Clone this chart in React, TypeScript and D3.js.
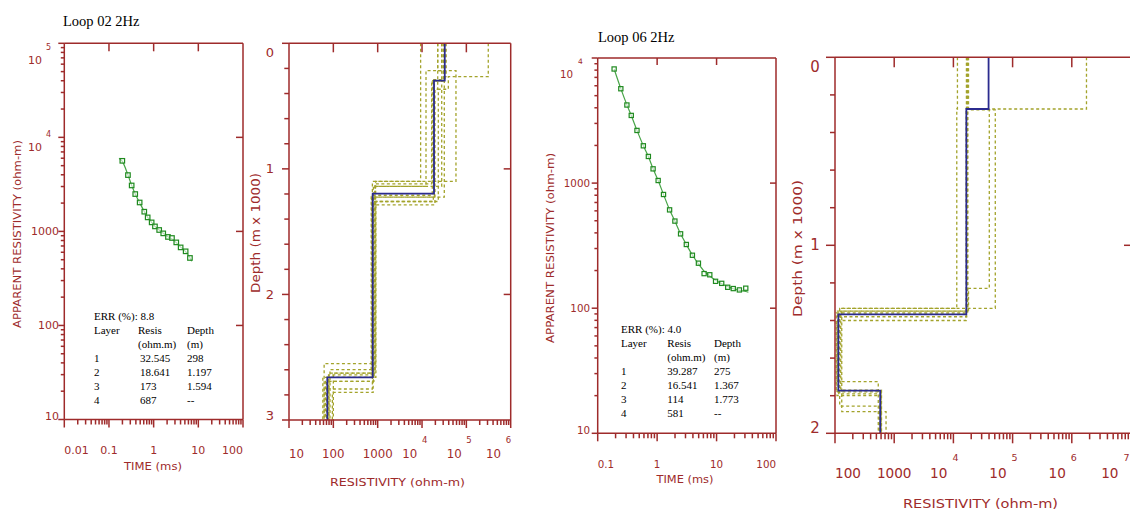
import React from "react";
import * as d3 from "d3";

// ---------------- Colours / fonts ----------------
const AXIS_COLOR = "#9e2b2b";
const GREEN_LINE = "#47a447";
const GREEN_MARK = "#1f8a1f";
const BLUE = "#2b2b8e";
const OLIVE = "#a3a32b";
const SANS = "'DejaVu Sans', Verdana, sans-serif";
const SERIF = "'Liberation Serif', 'Times New Roman', serif";

// ---------------- Loop 02 data ----------------
const loop02Title = "Loop 02 2Hz";
const loop02Time = [0.199, 0.266, 0.322, 0.387, 0.486, 0.617, 0.735, 0.902, 1.07, 1.33, 1.64, 2.09, 2.57, 3.21, 4.02, 5.2, 6.49];
const loop02Rho = [5630, 3970, 3080, 2495, 2030, 1620, 1409, 1247, 1130, 1035, 953, 873, 851, 764, 676, 614, 522];
const loop02FitTime = [0.168, 0.199, 0.266, 0.322, 0.387, 0.486, 0.617, 0.735, 0.902, 1.07, 1.33, 1.64, 2.09, 2.57, 3.21, 4.02, 5.2, 6.49, 7.08];
const loop02FitRho = [6010, 5560, 3990, 3090, 2500, 2020, 1625, 1410, 1250, 1130, 1035, 955, 875, 830, 760, 680, 610, 525, 481];
const loop02Err = "8.8";
const loop02Layer = ["1", "2", "3", "4"];
const loop02Resis = ["32.545", "18.641", "173", "687"];
const loop02Depth = ["298", "1.197", "1.594", "--"];
const loop02TimeTicks = [0.01, 0.1, 1, 10, 100];
const loop02AppRhoTicks = [10, 100, 1000, 1e4, 1e5];
const loop02ResTicks = [10, 100, 1000, 1e4, 1e5, 1e6];
const loop02DepthTicks = [0, 1, 2, 3];
const loop02ModelRho = [32545, 18641, 773, 73];
const loop02ModelBottom = [0.298, 1.197, 2.66];
const loop02EquivRho = [
  [9300, 900, 62],
  [22600, 58300, 760, 62],
  [27800, 12300, 880, 84],
  [312000, 39200, 23300, 820, 70],
  [27800, 16500, 860, 100],
  [22600, 19600, 790, 95],
  [35000, 31800, 830, 75],
  [32000, 27800, 800, 66],
  [30000, 19000, 730, 80],
  [33000, 18000, 910, 58],
  [31000, 17000, 715, 78],
];
const loop02EquivBottom = [
  [1.1, 2.551],
  [0.218, 1.1, 2.753],
  [0.218, 1.14, 2.599],
  [0.266, 0.366, 1.26, 2.692],
  [0.298, 1.12, 2.626],
  [0.366, 1.286, 2.78],
  [0.266, 1.225, 2.66],
  [0.3, 1.14, 2.692],
  [0.3, 1.225, 2.626],
  [0.3, 1.26, 2.66],
  [0.29, 1.21, 2.64],
];

// ---------------- Loop 06 data ----------------
const loop06Title = "Loop 06 2Hz";
const loop06Time = [0.189, 0.245, 0.31, 0.367, 0.458, 0.586, 0.712, 0.855, 1.04, 1.28, 1.62, 1.99, 2.48, 3.1, 3.92, 4.95, 6.17, 7.69, 9.62, 12.2, 15.4, 19.1, 24.2, 31.0];
const loop06Rho = [8170, 5680, 4210, 3475, 2636, 1987, 1633, 1300, 1049, 811, 611, 497, 393, 323, 265, 229, 189, 185, 164, 158, 147, 143.5, 140, 144.5];
const loop06FitTime = [0.189, 0.245, 0.31, 0.367, 0.458, 0.586, 0.712, 0.855, 1.04, 1.28, 1.62, 1.99, 2.48, 3.1, 3.92, 4.95, 6.17, 7.69, 9.62, 12.2, 15.4, 19.1, 24.2, 31.0, 34.3];
const loop06FitRho = [8170, 5690, 4220, 3470, 2640, 1990, 1630, 1300, 1050, 812, 612, 497, 393, 323, 266, 226, 198, 181, 167, 157, 149, 143, 139, 136, 134];
const loop06Err = "4.0";
const loop06Layer = ["1", "2", "3", "4"];
const loop06Resis = ["39.287", "16.541", "114", "581"];
const loop06Depth = ["275", "1.367", "1.773", "--"];
const loop06TimeTicks = [0.1, 1, 10, 100];
const loop06AppRhoTicks = [10, 100, 1000, 1e4];
const loop06ResTicks = [100, 1000, 1e4, 1e5, 1e6, 1e7];
const loop06DepthTicks = [0, 1, 2];
const loop06ModelRho = [39287, 16541, 114, 581];
const loop06ModelBottom = [0.275, 1.367, 1.773];
const loop06EquivRho = [
  [1770000, 40400, 18000, 110, 538],
  [11700, 11400, 120, 560],
  [18000, 51000, 130, 728],
  [17000, 17500, 105, 600],
  [16600, 16800, 115, 580],
  [17600, 17300, 125, 610],
  [17200, 16400, 108, 590],
];
const loop06EquivBottom = [
  [0.275, 1.229, 1.35, 1.725],
  [0.275, 1.335, 1.855],
  [0.28, 1.335, 1.885],
  [0.28, 1.36, 1.78],
  [0.28, 1.38, 1.79],
  [0.275, 1.35, 1.77],
  [0.28, 1.4, 1.8],
];

// ---------------- helpers ----------------
type Box = { l: number; r: number; t: number; b: number };

function isDecade(v: number) {
  const lg = Math.log10(v);
  return Math.abs(lg - Math.round(lg)) < 1e-6;
}
function plain(v: number) {
  return String(+v.toPrecision(6));
}
function textW(s: string, font: number) {
  let w = 0;
  for (const c of s) w += c === "." ? 0.318 : 0.636;
  return w * font;
}
function clamp(v: number, a: number, b: number) {
  return Math.max(a, Math.min(b, v));
}

function Frame({ box }: { box: Box }) {
  const { l, r, t, b } = box;
  return (
    <path
      d={`M${l},${t}H${r}M${l},${b}H${r}M${l},${t}V${b}M${r},${t}V${b}`}
      stroke={AXIS_COLOR}
      strokeWidth={1.5}
      fill="none"
    />
  );
}

function AxisTitle({ x, y, len, size, text, rotate }: { x: number; y: number; len: number; size: number; text: string; rotate?: boolean }) {
  return (
    <text
      x={0}
      y={0}
      transform={`translate(${x},${y})${rotate ? " rotate(-90)" : ""}`}
      textAnchor="middle"
      dominantBaseline="central"
      fontFamily={SANS}
      fontSize={size}
      fill={AXIS_COLOR}
      textLength={len}
      lengthAdjust="spacingAndGlyphs"
    >
      {text}
    </text>
  );
}

type CurveStyle = {
  font: number;
  supFont: number;
  xLabelY: number;
  yPlainEnd: number;
  yTenEnd: number;
  ySupStart: number;
  yTenDy: number;
  ySupDy: number;
  yTenMinTop: number;
  ySupMinTop: number;
  yBottomPad: number;
  tickTop: number;
  tickRight: number;
  tickBotMaj: number;
  tickBotMin: number;
  tickLeftMaj: number;
  tickLeftMin: number;
  xTitle: [number, number, number, number];
  yTitle: [number, number, number, number];
  marker: number;
};

function Table({ x, y, dy, cols, err, layer, resis, depth, valShift }: { x: number; y: number; dy: number; cols: [number, number]; err: string; layer: string[]; resis: string[]; depth: string[]; valShift: number }) {
  return (
    <g fontFamily={SERIF} fontSize={11} fill="#000">
      <text x={x} y={y} dominantBaseline="central">{`ERR (%): ${err}`}</text>
      <text x={x} y={y + dy} dominantBaseline="central">Layer</text>
      <text x={cols[0]} y={y + dy} dominantBaseline="central">Resis</text>
      <text x={cols[1]} y={y + dy} dominantBaseline="central">Depth</text>
      <text x={cols[0]} y={y + 2 * dy} dominantBaseline="central">(ohm.m)</text>
      <text x={cols[1]} y={y + 2 * dy} dominantBaseline="central">(m)</text>
      {layer.map((L, i) => (
        <g key={i}>
          <text x={x} y={y + (3 + i) * dy} dominantBaseline="central">{L}</text>
          <text x={cols[0] + valShift} y={y + (3 + i) * dy} dominantBaseline="central">{resis[i]}</text>
          <text x={cols[1]} y={y + (3 + i) * dy} dominantBaseline="central">{depth[i]}</text>
        </g>
      ))}
    </g>
  );
}

function CurvePanel(p: {
  box: Box;
  xTicks: number[];
  yTicks: number[];
  time: number[];
  rho: number[];
  fitTime: number[];
  fitRho: number[];
  st: CurveStyle;
}) {
  const { l, r, t, b } = p.box;
  const st = p.st;
  const x = d3.scaleLog().domain([p.xTicks[0], p.xTicks[p.xTicks.length - 1]]).range([l, r]);
  const y = d3.scaleLog().domain([p.yTicks[0], p.yTicks[p.yTicks.length - 1]]).range([b, t]);
  const xAll = x.ticks();
  const yAll = y.ticks();
  const line = d3
    .line<number>()
    .x((_, i) => x(p.fitTime[i]))
    .y((_, i) => y(p.fitRho[i]))
    .curve(d3.curveMonotoneX);
  const xMajInner = p.xTicks.slice(1, -1);
  const yMajInner = p.yTicks.slice(1, -1);
  return (
    <g>
      <Frame box={p.box} />
      <g stroke={AXIS_COLOR} strokeWidth={1.5}>
        {xAll.map((v, i) => (
          <line key={"bx" + i} x1={x(v)} x2={x(v)} y1={b} y2={b + (isDecade(v) ? st.tickBotMaj : st.tickBotMin)} />
        ))}
        {xMajInner.map((v, i) => (
          <line key={"tx" + i} x1={x(v)} x2={x(v)} y1={t} y2={t + st.tickTop} />
        ))}
        {yAll.map((v, i) => (
          <line key={"ly" + i} x1={l} x2={l - (isDecade(v) ? st.tickLeftMaj : st.tickLeftMin)} y1={y(v)} y2={y(v)} />
        ))}
        {yMajInner.map((v, i) => (
          <line key={"ry" + i} x1={r} x2={r - st.tickRight} y1={y(v)} y2={y(v)} />
        ))}
      </g>
      <g fontFamily={SANS} fill={AXIS_COLOR}>
        {p.xTicks.map((v, i) => {
          const s = plain(v);
          const w = textW(s, st.font);
          const cx = clamp(x(v), l + w / 2, r - w / 2);
          return (
            <text key={"xl" + i} x={cx} y={st.xLabelY} fontSize={st.font} textAnchor="middle" dominantBaseline="central">
              {s}
            </text>
          );
        })}
        {p.yTicks.map((v, i) => {
          if (v < 1e4) {
            return (
              <text key={"yl" + i} x={l - st.yPlainEnd} y={Math.min(y(v), b - st.yBottomPad)} fontSize={st.font} textAnchor="end" dominantBaseline="central">
                {plain(v)}
              </text>
            );
          }
          const e = Math.round(Math.log10(v));
          return (
            <g key={"yl" + i}>
              <text x={l - st.yTenEnd} y={Math.max(y(v) + st.yTenDy, t + st.yTenMinTop)} fontSize={st.font} textAnchor="end" dominantBaseline="central">
                10
              </text>
              <text x={l - st.ySupStart} y={Math.max(y(v) + st.ySupDy, t + st.ySupMinTop)} fontSize={st.supFont} textAnchor="start" dominantBaseline="central">
                {String(e)}
              </text>
            </g>
          );
        })}
      </g>
      <AxisTitle x={st.xTitle[0]} y={st.xTitle[1]} len={st.xTitle[2]} size={st.xTitle[3]} text="TIME (ms)" />
      <AxisTitle x={st.yTitle[0]} y={st.yTitle[1]} len={st.yTitle[2]} size={st.yTitle[3]} text="APPARENT RESISTIVITY (ohm-m)" rotate />
      <path d={line(p.fitTime) || ""} stroke={GREEN_LINE} strokeWidth={1.2} fill="none" />
      {p.time.map((tv, i) => (
        <rect
          key={"m" + i}
          x={x(tv) - st.marker / 2}
          y={y(p.rho[i]) - st.marker / 2}
          width={st.marker}
          height={st.marker}
          fill="#ffffff"
          fillOpacity={0.6}
          stroke={GREEN_MARK}
          strokeWidth={1.2}
        />
      ))}
    </g>
  );
}

type ModelStyle = {
  font: number;
  supFont: number;
  xLabelY: number;
  xSupY: number;
  tenGap: number;
  supOff: number;
  depthFont: number;
  depthLabelOff: number;
  depthTopPad: number;
  depthBotPad: number;
  tickTop: number;
  tickRight: number;
  tickBotMaj: number;
  tickBotMin: number;
  tickLeftMaj: number;
  tickLeftMin: number;
  xTitle: [number, number, number, number];
  yTitle: [number, number, number, number];
};

function stepPoints(rhos: number[], bottoms: number[], maxDepth: number): [number, number][] {
  const pts: [number, number][] = [];
  let top = 0;
  rhos.forEach((rv, i) => {
    const bot = i < bottoms.length ? bottoms[i] : maxDepth;
    pts.push([rv, top], [rv, bot]);
    top = bot;
  });
  return pts;
}

function ModelPanel(p: {
  box: Box;
  xTicks: number[];
  depthTicks: number[];
  equivRho: number[][];
  equivBottom: number[][];
  modelRho: number[];
  modelBottom: number[];
  st: ModelStyle;
}) {
  const { l, r, t, b } = p.box;
  const st = p.st;
  const maxDepth = p.depthTicks[p.depthTicks.length - 1];
  const x = d3.scaleLog().domain([p.xTicks[0], p.xTicks[p.xTicks.length - 1]]).range([l, r]);
  const y = d3.scaleLinear().domain([0, maxDepth]).range([t, b]);
  const xAll = x.ticks();
  const yAll = d3.range(0, maxDepth + 1e-9, 0.2);
  const line = d3
    .line<[number, number]>()
    .x((d) => x(d[0]))
    .y((d) => y(d[1]));
  const xMajInner = p.xTicks.slice(1, -1);
  const yMajInner = p.depthTicks.slice(1, -1);
  const visRight = Math.min(r, 1129);
  return (
    <g>
      {p.equivRho.map((rh, i) => (
        <path
          key={"eq" + i}
          d={line(stepPoints(rh, p.equivBottom[i], maxDepth)) || ""}
          stroke={OLIVE}
          strokeWidth={1.3}
          strokeDasharray="3,2.5"
          fill="none"
        />
      ))}
      <path d={line(stepPoints(p.modelRho, p.modelBottom, maxDepth)) || ""} stroke={BLUE} strokeWidth={1.8} fill="none" />
      <Frame box={p.box} />
      <g stroke={AXIS_COLOR} strokeWidth={1.5}>
        {xAll.map((v, i) => (
          <line key={"bx" + i} x1={x(v)} x2={x(v)} y1={b} y2={b + (isDecade(v) ? st.tickBotMaj : st.tickBotMin)} />
        ))}
        {xMajInner.map((v, i) => (
          <line key={"tx" + i} x1={x(v)} x2={x(v)} y1={t} y2={t + st.tickTop} />
        ))}
        {yAll.map((v, i) => {
          const maj = Math.abs(v - Math.round(v)) < 1e-6;
          return <line key={"ly" + i} x1={l} x2={l - (maj ? st.tickLeftMaj : st.tickLeftMin)} y1={y(v)} y2={y(v)} />;
        })}
        {yMajInner.map((v, i) => (
          <line key={"ry" + i} x1={r} x2={r - st.tickRight} y1={y(v)} y2={y(v)} />
        ))}
      </g>
      <g fontFamily={SANS} fill={AXIS_COLOR}>
        {p.depthTicks.map((v, i) => (
          <text
            key={"dl" + i}
            x={l - st.depthLabelOff}
            y={clamp(y(v), t + st.depthTopPad, b - st.depthBotPad)}
            fontSize={st.depthFont}
            textAnchor="middle"
            dominantBaseline="central"
          >
            {String(v)}
          </text>
        ))}
        {p.xTicks.map((v, i) => {
          if (v < 1e4) {
            const s = plain(v);
            const w = textW(s, st.font);
            const cx = clamp(x(v), l + w / 2, r - w / 2);
            return (
              <text key={"xl" + i} x={cx} y={st.xLabelY} fontSize={st.font} textAnchor="middle" dominantBaseline="central">
                {s}
              </text>
            );
          }
          const e = Math.round(Math.log10(v));
          const supW = st.supFont * 0.636;
          const shift = Math.min(0, visRight + 0.5 - (x(v) + st.supOff + supW));
          return (
            <g key={"xl" + i}>
              <text x={x(v) - st.tenGap + shift} y={st.xLabelY} fontSize={st.font} textAnchor="end" dominantBaseline="central">
                10
              </text>
              <text x={x(v) + st.supOff + shift} y={st.xSupY} fontSize={st.supFont} textAnchor="start" dominantBaseline="central">
                {String(e)}
              </text>
            </g>
          );
        })}
      </g>
      <AxisTitle x={st.xTitle[0]} y={st.xTitle[1]} len={st.xTitle[2]} size={st.xTitle[3]} text="RESISTIVITY (ohm-m)" />
      <AxisTitle x={st.yTitle[0]} y={st.yTitle[1]} len={st.yTitle[2]} size={st.yTitle[3]} text="Depth (m x 1000)" rotate />
    </g>
  );
}

// ---------------- panel styles ----------------
const styleA: CurveStyle = {
  font: 11,
  supFont: 8,
  xLabelY: 450,
  yPlainEnd: 5.3,
  yTenEnd: 22.3,
  ySupStart: 18.3,
  yTenDy: 10,
  ySupDy: -2.7,
  yTenMinTop: 16.7,
  ySupMinTop: 3.7,
  yBottomPad: 3.5,
  tickTop: 8,
  tickRight: 7,
  tickBotMaj: 8,
  tickBotMin: 5,
  tickLeftMaj: 6,
  tickLeftMin: 3.5,
  xTitle: [153, 466, 58, 11],
  yTitle: [17, 234, 188, 10.5],
  marker: 4.5,
};
const styleC: CurveStyle = {
  font: 10.3,
  supFont: 7.5,
  xLabelY: 464,
  yPlainEnd: 7.7,
  yTenEnd: 24.7,
  ySupStart: 19.7,
  yTenDy: 16,
  ySupDy: 3.4,
  yTenMinTop: 16,
  ySupMinTop: 3.7,
  yBottomPad: 3.3,
  tickTop: 7,
  tickRight: 6,
  tickBotMaj: 8,
  tickBotMin: 5,
  tickLeftMaj: 6,
  tickLeftMin: 3.3,
  xTitle: [685, 479.3, 57, 11],
  yTitle: [550, 248, 190, 10.5],
  marker: 4.2,
};
const styleB: ModelStyle = {
  font: 11.8,
  supFont: 8.5,
  xLabelY: 453.5,
  xSupY: 440,
  tenGap: 4.7,
  supOff: 0,
  depthFont: 13,
  depthLabelOff: 19,
  depthTopPad: 8.7,
  depthBotPad: 5,
  tickTop: 9,
  tickRight: 7,
  tickBotMaj: 8,
  tickBotMin: 5,
  tickLeftMaj: 7,
  tickLeftMin: 4.7,
  xTitle: [397.5, 482, 135, 11],
  yTitle: [256, 233, 120, 11.5],
};
const styleD: ModelStyle = {
  font: 13.6,
  supFont: 9.5,
  xLabelY: 472.5,
  xSupY: 457.5,
  tenGap: 6,
  supOff: -1,
  depthFont: 15,
  depthLabelOff: 20,
  depthTopPad: 9.4,
  depthBotPad: 5.3,
  tickTop: 10,
  tickRight: 7,
  tickBotMaj: 10,
  tickBotMin: 6,
  tickLeftMaj: 9,
  tickLeftMin: 5,
  xTitle: [980.5, 503.5, 155, 12.5],
  yTitle: [797, 248.5, 137, 13],
};

export default function App() {
  return (
    <svg
      width={1130}
      height={511}
      viewBox="0 0 1130 511"
      style={{ position: "absolute", left: 0, top: 0, background: "#ffffff" }}
    >
      <rect x={0} y={0} width={1130} height={511} fill="#ffffff" />
      <text x={63} y={26} fontFamily={SERIF} fontSize={14.5} fill="#000">
        {loop02Title}
      </text>
      <text x={598} y={42} fontFamily={SERIF} fontSize={14.5} fill="#000">
        {loop06Title}
      </text>

      <CurvePanel
        box={{ l: 64.3, r: 243, t: 43.3, b: 419.5 }}
        xTicks={loop02TimeTicks}
        yTicks={loop02AppRhoTicks}
        time={loop02Time}
        rho={loop02Rho}
        fitTime={loop02FitTime}
        fitRho={loop02FitRho}
        st={styleA}
      />
      <Table x={94} y={316} dy={14} cols={[138, 187]} err={loop02Err} layer={loop02Layer} resis={loop02Resis} depth={loop02Depth} valShift={2} />

      <ModelPanel
        box={{ l: 289, r: 510.7, t: 43.3, b: 420 }}
        xTicks={loop02ResTicks}
        depthTicks={loop02DepthTicks}
        equivRho={loop02EquivRho}
        equivBottom={loop02EquivBottom}
        modelRho={loop02ModelRho}
        modelBottom={loop02ModelBottom}
        st={styleB}
      />

      <CurvePanel
        box={{ l: 597.7, r: 776, t: 58, b: 433.3 }}
        xTicks={loop06TimeTicks}
        yTicks={loop06AppRhoTicks}
        time={loop06Time}
        rho={loop06Rho}
        fitTime={loop06FitTime}
        fitRho={loop06FitRho}
        st={styleC}
      />
      <Table x={621} y={329} dy={14} cols={[667.3, 714]} err={loop06Err} layer={loop06Layer} resis={loop06Resis} depth={loop06Depth} valShift={0} />

      <ModelPanel
        box={{ l: 835, r: 1131, t: 57.3, b: 433.3 }}
        xTicks={loop06ResTicks}
        depthTicks={loop06DepthTicks}
        equivRho={loop06EquivRho}
        equivBottom={loop06EquivBottom}
        modelRho={loop06ModelRho}
        modelBottom={loop06ModelBottom}
        st={styleD}
      />
    </svg>
  );
}
